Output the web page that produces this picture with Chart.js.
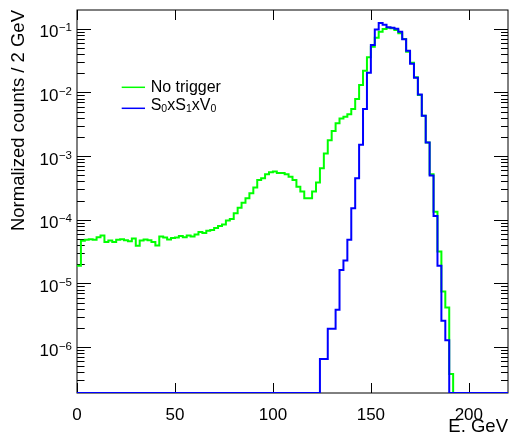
<!DOCTYPE html>
<html>
<head>
<meta charset="utf-8">
<title>E spectrum</title>
<script src="https://cdn.jsdelivr.net/npm/chart.js@4.4.1/dist/chart.umd.min.js"></script>
<style>
  html, body { margin: 0; padding: 0; background: #ffffff; }
</style>
</head>
<body>
<canvas id="energyChart" width="509" height="432"></canvas>
<script>
// Normalized energy spectra, 2 GeV bins from 0 to 220 GeV
const BIN_WIDTH = 2;
const X_MIN = 0;
const X_MAX = 220;
const Y_MIN = 1.9e-7;
const Y_MAX = 0.197;

const xTickValues = [0, 50, 100, 150, 200];
const yDecadeExponents = [-6, -5, -4, -3, -2, -1];
const yMinorMultipliers = [2, 3, 4, 5, 6, 7, 8, 9];

const seriesLabels = ['No trigger', 'S_{0}xS_{1}xV_{0}'];
const seriesColors = ['#00ff00', '#0000ff'];

// bin contents, one value per 2 GeV bin (110 bins)
const noTrigger = [
    1.9e-5, 4.66e-5, 4.83e-5, 4.95e-5, 4.83e-5, 5.32e-5, 5.64e-5, 4.49e-5, 4.71e-5, 4.49e-5,
    4.83e-5, 4.95e-5, 4.78e-5, 4.6e-5, 5.06e-5, 3.89e-5, 4.71e-5, 4.89e-5, 4.78e-5, 4.49e-5,
    3.94e-5, 5.44e-5, 5.25e-5, 4.89e-5, 5.19e-5, 5.25e-5, 5.58e-5, 5.32e-5, 5.64e-5, 5.44e-5,
    5.85e-5, 6.4e-5, 6.2e-5, 6.7e-5, 6.9e-5, 7.4e-5, 8.0e-5, 8.4e-5, 9.7e-5, 1.03e-4,
    1.27e-4, 1.55e-4, 1.85e-4, 2.18e-4, 2.61e-4, 3.2e-4, 4.22e-4, 4.49e-4, 5.19e-4, 5.57e-4,
    5.7e-4, 5.43e-4, 5.43e-4, 5.19e-4, 4.75e-4, 4.22e-4, 3.31e-4, 2.77e-4, 2.18e-4, 2.18e-4,
    2.77e-4, 3.83e-4, 6.45e-4, 1.1e-3, 1.77e-3, 2.48e-3, 3.28e-3, 3.9e-3, 4.16e-3, 4.54e-3,
    5.5e-3, 7.85e-3, 1.31e-2, 2.19e-2, 3.56e-2, 5.22e-2, 7.22e-2, 8.97e-2, 9.89e-2, 1.037e-1,
    1.014e-1, 9.54e-2, 8.47e-2, 6.89e-2, 4.36e-2, 2.93e-2, 1.73e-2, 9.11e-3, 4.31e-3, 1.63e-3,
    5.19e-4, 1.34e-4, 3.16e-5, 7.46e-6, 4.19e-6, 3.77e-7, 0, 0, 0, 0,
    0, 0, 0, 0, 0, 0, 0, 0, 0, 0
];

const s0s1v0 = [
    0, 0, 0, 0, 0, 0, 0, 0, 0, 0,
    0, 0, 0, 0, 0, 0, 0, 0, 0, 0,
    0, 0, 0, 0, 0, 0, 0, 0, 0, 0,
    0, 0, 0, 0, 0, 0, 0, 0, 0, 0,
    0, 0, 0, 0, 0, 0, 0, 0, 0, 0,
    0, 0, 0, 0, 0, 0, 0, 0, 0, 0,
    0, 0, 6.5e-7, 6.5e-7, 1.94e-6, 1.94e-6, 3.85e-6, 1.63e-5, 2.29e-5, 4.83e-5,
    1.52e-4, 4.49e-4, 1.5e-3, 5.5e-3, 2.04e-2, 5.55e-2, 9.71e-2, 1.229e-1, 1.159e-1, 1.052e-1,
    1.037e-1, 1.0e-1, 8.97e-2, 6.82e-2, 4.5e-2, 2.83e-2, 1.7e-2, 9.24e-3, 4.31e-3, 1.63e-3,
    4.97e-4, 1.15e-4, 1.89e-5, 2.59e-6, 1.28e-6, 0, 0, 0, 0, 0,
    0, 0, 0, 0, 0, 0, 0, 0, 0, 0
];

const FONT = '"Liberation Sans", Arial, Helvetica, sans-serif';

// histogram outline: one point per bin low edge, empty bins sit on the axis
function toSteps(values) {
    const pts = values.map((v, i) => ({ x: X_MIN + i * BIN_WIDTH, y: v > 0 ? v : Y_MIN }));
    pts.push({ x: X_MAX, y: pts[pts.length - 1].y });
    return pts;
}

// split "S_{0}xS_{1}" into plain / subscript pieces
function parseLatex(text) {
    const parts = [];
    const re = /_\{([^}]*)\}/g;
    let last = 0, m;
    while ((m = re.exec(text)) !== null) {
        if (m.index > last) parts.push({ t: text.slice(last, m.index), sub: false });
        parts.push({ t: m[1], sub: true });
        last = re.lastIndex;
    }
    if (last < text.length) parts.push({ t: text.slice(last), sub: false });
    return parts;
}

const rootStyle = {
    id: 'rootStyle',
    beforeDatasetsDraw(chart) {
        const { ctx, chartArea: a, scales: { x, y } } = chart;
        ctx.save();
        ctx.strokeStyle = '#000';
        ctx.lineWidth = 1;
        ctx.strokeRect(a.left, a.top, a.right - a.left, a.bottom - a.top);

        ctx.beginPath();
        xTickValues.forEach(v => {
            const px = Math.round(x.getPixelForValue(v)) + 0.5;
            ctx.moveTo(px, a.bottom); ctx.lineTo(px, a.bottom - 10);
            ctx.moveTo(px, a.top); ctx.lineTo(px, a.top + 10);
        });
        yDecadeExponents.forEach(e => {
            const dec = Math.pow(10, e);
            const py = Math.round(y.getPixelForValue(dec)) + 0.5;
            ctx.moveTo(a.left, py); ctx.lineTo(a.left + 14, py);
            ctx.moveTo(a.right, py); ctx.lineTo(a.right - 14, py);
            [Math.pow(10, e - 1)].concat([dec]).forEach(base => {
                yMinorMultipliers.forEach(m => {
                    const val = m * base;
                    if (val < Y_MIN || val > Y_MAX) return;
                    const my = Math.round(y.getPixelForValue(val)) + 0.5;
                    ctx.moveTo(a.left, my); ctx.lineTo(a.left + 7.5, my);
                    ctx.moveTo(a.right, my); ctx.lineTo(a.right - 7, my);
                });
            });
        });
        ctx.stroke();

        // y labels 10^n
        ctx.fillStyle = '#000';
        ctx.textAlign = 'right';
        ctx.textBaseline = 'alphabetic';
        yDecadeExponents.forEach(e => {
            const py = y.getPixelForValue(Math.pow(10, e));
            const expText = '\u2212' + Math.abs(e);
            ctx.font = '11.5px ' + FONT;
            const ew = ctx.measureText(expText).width;
            ctx.fillText(expText, 72, py + 2.5);
            ctx.font = '17px ' + FONT;
            ctx.fillText('10', 72 - ew - 0.5, py + 8.6);
        });
        ctx.restore();
    },
    afterDraw(chart) {
        const { ctx } = chart;
        const rowsY = [87.3, 108.3];
        ctx.save();
        chart.data.datasets.forEach((ds, i) => {
            const ly = rowsY[i];
            ctx.strokeStyle = ds.borderColor;
            ctx.lineWidth = 1.5;
            ctx.beginPath();
            ctx.moveTo(121.7, ly); ctx.lineTo(145, ly);
            ctx.stroke();

            const parts = parseLatex(ds.label);
            const hasSub = parts.some(p => p.sub);
            const base = ly + (hasSub ? 1.8 : 4.4);
            let tx = 150.7;
            ctx.fillStyle = '#000';
            ctx.textAlign = 'left';
            ctx.textBaseline = 'alphabetic';
            parts.forEach(p => {
                ctx.font = (p.sub ? '10.5px ' : '16px ') + FONT;
                ctx.fillText(p.t, tx, p.sub ? base + 2 : base);
                tx += ctx.measureText(p.t).width;
            });
        });
        ctx.restore();
    }
};

const ctx = document.getElementById('energyChart').getContext('2d');
new Chart(ctx, {
    type: 'line',
    data: {
        datasets: [{
            label: seriesLabels[0],
            data: toSteps(noTrigger),
            borderColor: seriesColors[0],
            borderWidth: 2,
            stepped: 'before',
            pointRadius: 0,
            fill: false,
            order: 1
        }, {
            label: seriesLabels[1],
            data: toSteps(s0s1v0),
            borderColor: seriesColors[1],
            borderWidth: 2,
            stepped: 'before',
            pointRadius: 0,
            fill: false,
            order: 0
        }]
    },
    options: {
        responsive: false,
        animation: false,
        layout: { padding: { top: 10, right: 1, left: 0, bottom: 0 } },
        plugins: {
            legend: { display: false },
            tooltip: { enabled: false }
        },
        scales: {
            x: {
                type: 'linear',
                min: X_MIN,
                max: X_MAX,
                afterBuildTicks: (scale) => { scale.ticks = xTickValues.map(v => ({ value: v })); },
                afterFit: (scale) => { scale.height = 39; },
                grid: { display: false },
                border: { display: false },
                ticks: { color: '#000', font: { family: FONT, size: 17 }, padding: 4, maxRotation: 0, autoSkip: false },
                title: {
                    display: true, text: 'E, GeV', align: 'end', color: '#000',
                    font: { family: FONT, size: 18.5, lineHeight: 0.7 }, padding: { top: 0, bottom: -1 }
                }
            },
            y: {
                type: 'logarithmic',
                min: Y_MIN,
                max: Y_MAX,
                afterFit: (scale) => { scale.width = 77; },
                grid: { display: false },
                border: { display: false },
                ticks: { display: false },
                title: {
                    display: true, text: 'Normalized counts / 2 GeV', align: 'end', color: '#000',
                    font: { family: FONT, size: 18.5 }, padding: { top: 8, bottom: 0 }
                }
            }
        }
    },
    plugins: [rootStyle]
});
</script>
</body>
</html>
